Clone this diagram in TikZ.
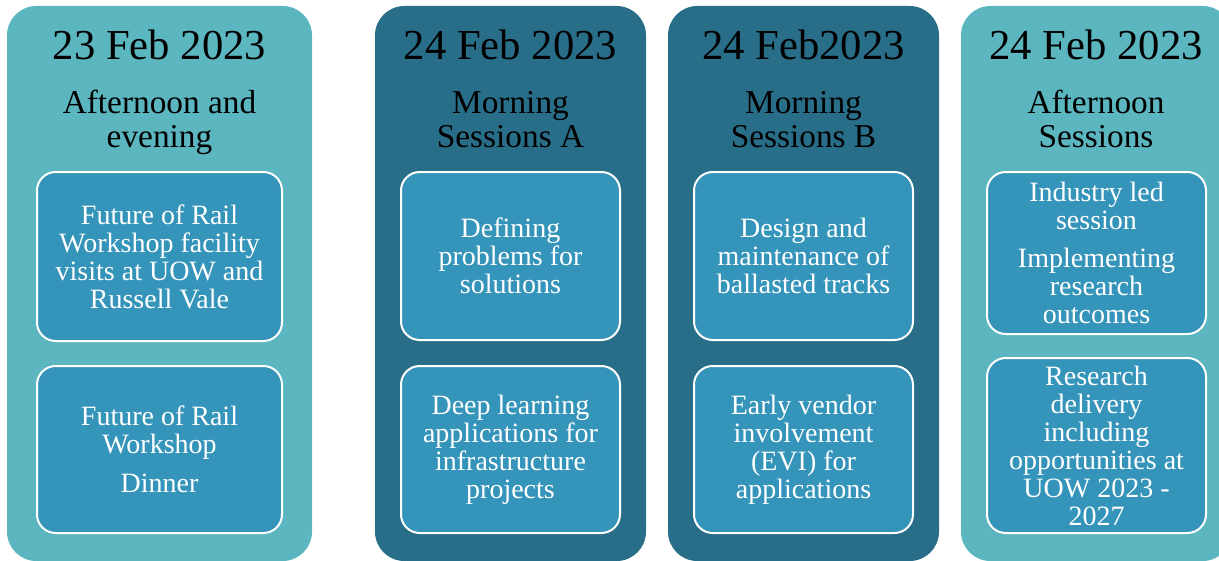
\documentclass[tikz,border=0pt]{standalone}
\usepackage{fontspec}
\setmainfont{Liberation Serif}
\definecolor{lightcol}{RGB}{91,182,192}
\definecolor{darkcol}{RGB}{40,110,137}
\definecolor{itemcol}{RGB}{53,148,186}

\tikzset{
  colbox/.style={rounded corners=22pt},
  datetext/.style={anchor=base, font=\fontsize{32}{32}\selectfont},
  slottext/.style={anchor=base, align=center, font=\fontsize{25}{25.5}\selectfont},
  itembox/.style={draw=white, line width=1.5pt, fill=itemcol, rounded corners=14pt,
    text=white, align=center, font=\fontsize{21}{21}\selectfont, inner sep=0pt,
    minimum width=164.25pt, minimum height=126pt},
}

\begin{document}
\begin{tikzpicture}[x=0.75pt,y=-0.75pt]
  \clip (0,0) rectangle (1219,560);

  % day columns
  \fill[lightcol, colbox] (7,6) rectangle (312,561);
  \fill[darkcol, colbox] (375,6) rectangle (646,561);
  \fill[darkcol, colbox] (668,6) rectangle (939,561);
  \fill[lightcol, colbox] (961,6) rectangle (1232,561);

  % headers
  \node[datetext] (d1) at (159.5,60) {23 Feb 2023};
  \node[datetext] (d2) at (510.5,60) {24 Feb 2023};
  \node[datetext] (d3) at (803.5,60) {24 Feb2023};
  \node[datetext] (d4) at (1096,60) {24 Feb 2023};

  \node[slottext] (s1) at (159.5,147) {Afternoon and\\evening};
  \node[slottext] (s2) at (510.5,147) {Morning\\Sessions A};
  \node[slottext] (s3) at (803.5,147) {Morning\\Sessions B};
  \node[slottext] (s4) at (1096,147) {Afternoon\\Sessions};

  % sessions
  \node[itembox, minimum width=183.75pt, minimum height=126.75pt] (a1) at (159.5,256.5)
    {Future of Rail\\Workshop facility\\visits at UOW and\\Russell Vale};
  \node[itembox, minimum width=183.75pt, minimum height=125.25pt] (b1) at (159.5,449.5)
    {Future of Rail\\Workshop\\[8pt]Dinner};

  \node[itembox] (a2) at (510.5,256) {Defining\\problems for\\solutions};
  \node[itembox, minimum height=125.25pt] (b2) at (510.5,449.5)
    {Deep learning\\applications for\\infrastructure\\projects};

  \node[itembox] (a3) at (803.5,256) {Design and\\maintenance of\\ballasted tracks};
  \node[itembox, minimum height=125.25pt] (b3) at (803.5,449.5)
    {Early vendor\\involvement\\(EVI) for\\applications};

  \node[itembox, minimum height=121.5pt] (a4) at (1096.5,253)
    {Industry led\\session\\[8pt]Implementing\\research\\outcomes};
  \node[itembox, minimum height=131.25pt] (b4) at (1096.5,445.5)
    {Research\\delivery\\including\\opportunities at\\UOW 2023 -\\2027};
\end{tikzpicture}
\end{document}
